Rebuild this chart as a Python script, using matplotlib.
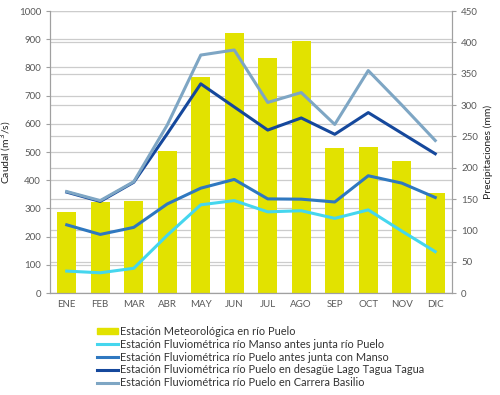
import matplotlib
matplotlib.use("Agg")
import matplotlib.pyplot as plt
from matplotlib.patches import Patch
from matplotlib.lines import Line2D

plt.rcParams["font.family"] = ["Lato", "DejaVu Sans"]

meses = ["ENE", "FEB", "MAR", "ABR", "MAY", "JUN", "JUL", "AGO", "SEP", "OCT", "NOV", "DIC"]

# precipitaciones (mm) - eje derecho
precip = [129, 146, 147, 227, 344, 415, 375, 403, 231, 233, 210, 160]

# caudales (m3/s) - eje izquierdo
manso = [78, 72, 88, 205, 313, 328, 288, 292, 265, 295, 220, 147]
puelo_manso = [242, 208, 233, 316, 372, 403, 334, 333, 323, 416, 390, 339]
tagua = [358, 325, 393, 565, 742, 660, 578, 621, 563, 640, 567, 494]
basilio = [360, 328, 395, 596, 844, 862, 676, 711, 598, 789, 667, 541]

etiquetas = ["Estación Meteorológica en río Puelo",
             "Estación Fluviométrica río Manso antes junta río Puelo",
             "Estación Fluviométrica río Puelo antes junta con Manso",
             "Estación Fluviométrica río Puelo en desagüe Lago Tagua Tagua",
             "Estación Fluviométrica río Puelo en Carrera Basilio"]

c_bar = "#E2E200"
c_manso = "#45D6EE"
c_puelo = "#2F78C0"
c_tagua = "#15489C"
c_basilio = "#7EA6C4"
gris = "#595959"
c_grid = "#CCCCCC"

fig = plt.figure(figsize=(5, 3.95), dpi=100)
ax = fig.add_axes([0.10, 0.258, 0.804, 0.714])
ax2 = ax.twinx()
ax2.set_zorder(ax.get_zorder() - 1)
ax.patch.set_visible(False)

x = list(range(len(meses)))

# grid (both scales) behind bars
for t in range(0, 1001, 100):
    ax2.axhline(t * 450 / 1000, color=c_grid, lw=0.9, zorder=0)
for t in range(0, 451, 50):
    ax2.axhline(t, color=c_grid, lw=0.9, zorder=0)

ax2.bar(x, precip, width=0.58, color=c_bar, zorder=2)
ax2.set_ylim(0, 450)
ax2.set_yticks(range(0, 451, 50))

ax.plot(x, manso, color=c_manso, lw=2.2)
ax.plot(x, puelo_manso, color=c_puelo, lw=2.2)
ax.plot(x, tagua, color=c_tagua, lw=2.2)
ax.plot(x, basilio, color=c_basilio, lw=2.2)
ax.set_ylim(0, 1000)
ax.set_yticks(range(0, 1001, 100))
ax.set_xlim(-0.5, 11.5)
ax.set_xticks(x)
ax.set_xticklabels(meses)

for a in (ax, ax2):
    for s in a.spines.values():
        s.set_color("#A0A0A0")
    a.spines["top"].set_visible(False)
    a.tick_params(colors=gris, labelsize=7, length=3, width=0.8)
    a.tick_params(axis="y", color="#A0A0A0")
ax.tick_params(axis="x", length=0, pad=5)

ax.set_ylabel("Caudal (m$^3$/s)", fontsize=7.5, color="#222222", labelpad=4)
ax2.set_ylabel("Precipitaciones (mm)", fontsize=7.5, color="#222222", labelpad=4)

handles = [Patch(color=c_bar),
           Line2D([], [], color=c_manso, lw=2.2),
           Line2D([], [], color=c_puelo, lw=2.2),
           Line2D([], [], color=c_tagua, lw=2.2),
           Line2D([], [], color=c_basilio, lw=2.2)]
fig.legend(handles, etiquetas, loc="upper left", bbox_to_anchor=(0.184, 0.188),
           frameon=False, fontsize=7.9, handlelength=1.9, handleheight=0.5,
           handletextpad=0.15, labelspacing=0.16, borderpad=0, labelcolor="#333333")

fig.savefig("out.png", dpi=100)
